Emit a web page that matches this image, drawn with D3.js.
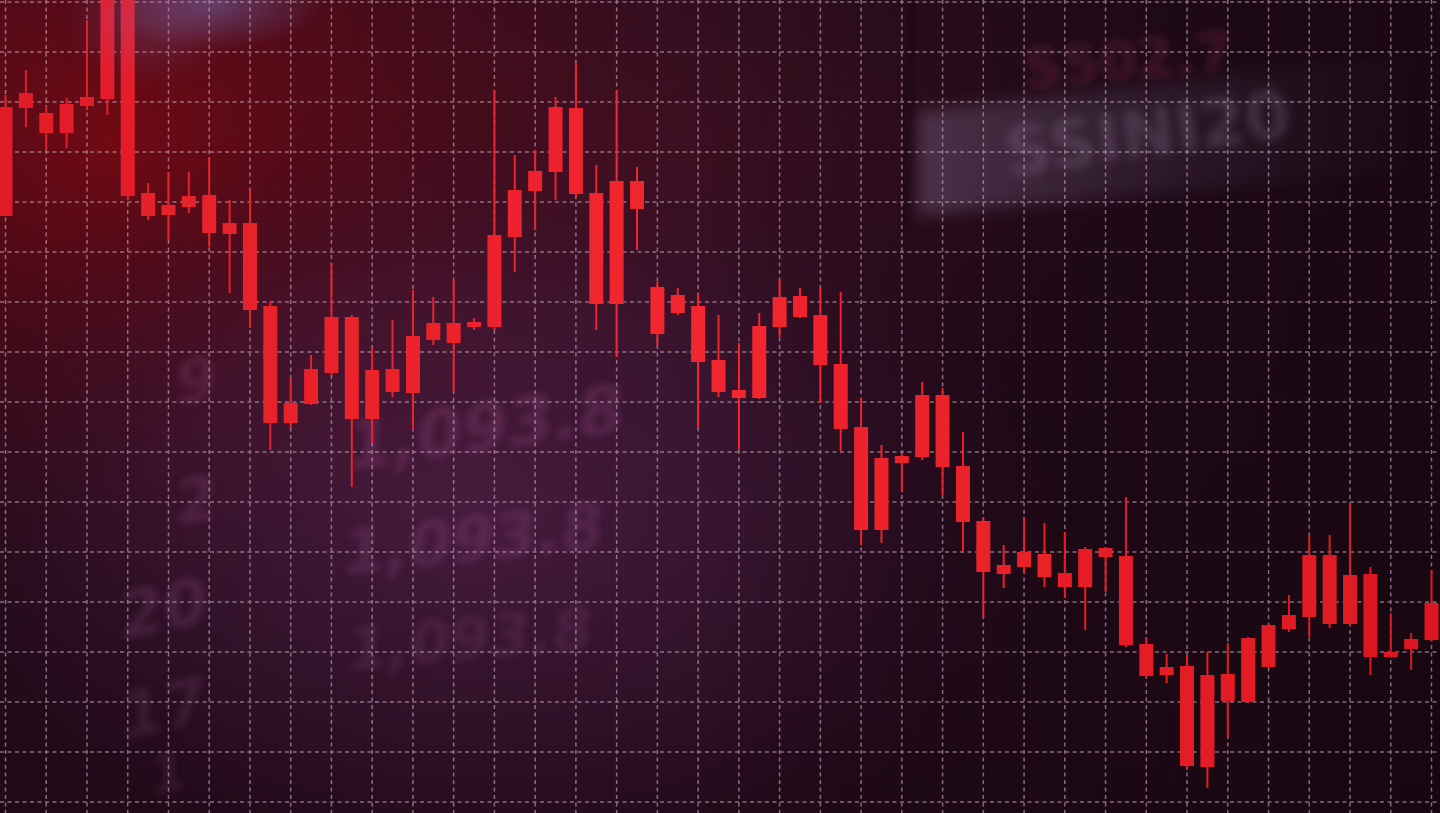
<!DOCTYPE html>
<html>
<head>
<meta charset="utf-8">
<script src="https://cdn.jsdelivr.net/npm/d3@7"></script>
<style>
html,body{margin:0;padding:0;background:#1a0812;overflow:hidden;}
svg{display:block;}
</style>
</head>
<body>
<svg id="chart" width="1440" height="813"></svg>
<script>
// ---- data (bearish candles: open = body top, close = body bottom) ----
const candleIndex = d3.range(71);
const openVals  = [179.0,181.8,177.8,179.6,181.0,202.4,202.4,161.8,159.4,161.2,161.4,155.8,155.8,139.2,119.8,126.6,137.0,137.0,126.4,126.6,133.2,135.8,135.8,136.0,153.4,162.4,166.2,179.0,178.8,161.8,164.2,164.2,143.0,141.4,139.2,128.4,122.4,135.2,141.0,141.2,137.4,127.6,115.0,108.8,109.2,121.4,121.4,107.2,96.2,87.4,90.0,89.6,85.8,90.6,90.8,89.2,71.6,67.0,67.2,65.4,65.6,72.8,75.4,77.4,89.4,89.4,85.4,85.6,70.0,72.6,79.8];
const closeVals = [157.2,178.8,173.8,173.8,179.2,180.6,161.2,157.2,157.4,159.0,153.8,153.6,138.4,115.8,115.8,119.6,125.8,116.6,116.6,122.0,121.8,132.4,131.8,135.0,135.0,153.0,162.2,166.0,161.6,139.6,139.6,158.6,133.6,137.8,128.0,122.0,120.8,120.8,135.0,137.0,127.4,114.6,94.4,94.4,107.8,109.0,107.0,96.0,86.0,85.6,87.0,85.0,83.0,83.0,89.0,71.4,65.2,65.4,47.2,47.0,60.2,60.0,67.0,74.6,77.0,75.6,75.6,69.0,69.0,70.6,72.4];
const highVals  = [181.4,186.4,179.0,180.8,196.4,202.4,202.4,163.8,166.0,166.0,169.0,160.4,162.4,140.0,125.0,129.4,147.8,137.4,130.8,136.4,142.4,141.0,144.4,136.8,182.4,169.4,170.4,181.0,187.8,167.4,182.4,167.0,144.0,142.8,141.8,137.4,131.8,137.8,144.4,142.8,142.8,142.0,120.8,111.4,109.8,124.0,122.8,114.0,97.0,91.4,97.0,95.8,94.0,91.0,91.0,101.0,73.0,69.6,69.4,70.0,71.8,73.0,75.8,81.4,93.4,93.4,99.6,87.0,77.8,73.8,86.4];
const lowVals   = [157.2,175.0,170.4,170.8,178.4,177.4,160.4,156.4,152.4,157.8,151.0,141.8,134.8,110.4,114.8,119.4,125.4,103.0,111.8,121.0,114.4,131.4,122.0,134.4,134.4,146.0,154.4,160.4,161.0,134.4,129.0,150.4,131.4,137.4,114.8,121.0,110.4,120.6,133.0,136.8,119.8,110.0,91.4,91.8,102.0,108.4,101.4,90.0,76.8,82.8,85.8,83.0,80.8,74.4,82.0,71.0,64.8,63.8,46.4,42.8,53.0,59.8,66.8,74.0,73.0,74.8,75.4,65.4,68.8,66.4,72.2];
const priceTicks = d3.range(40, 201, 10);
const timeTicks = d3.range(0, 71, 2);
const ghostNumbers = ["1,093.8","1,093.8","1,093.8","9","2","20","17","1"];
const panelTexts = ["S502.7","SSINI20"];

const W = 1440, H = 813;
const svg = d3.select("#chart");
const x = d3.scaleLinear().domain([0, 70]).range([5.5, 1431.5]);
const y = d3.scaleLinear().domain([40, 200]).range([802, 2]);

const defs = svg.append("defs");
function radial(id, stops){
  const g = defs.append("radialGradient").attr("id", id);
  stops.forEach(s => g.append("stop").attr("offset", s[0]).attr("stop-color", s[1]).attr("stop-opacity", s[2]));
}
radial("gRed", [[0,"#7a0a14",0.95],[0.45,"#620a16",0.6],[1,"#4a0a18",0]]);
radial("gPurple", [[0,"#6a2a5e",0.7],[0.55,"#52204a",0.45],[1,"#3a1030",0]]);
radial("gBlue", [[0,"#6e5a96",0.6],[1,"#6e5a96",0]]);
radial("gMaroon", [[0,"#4e1226",0.7],[1,"#4a1024",0]]);
const lin = defs.append("linearGradient").attr("id","gDark").attr("x1","0").attr("x2","1").attr("y1","0").attr("y2","0");
lin.append("stop").attr("offset",0).attr("stop-color","#14060e").attr("stop-opacity",0);
lin.append("stop").attr("offset",1).attr("stop-color","#14060e").attr("stop-opacity",0.65);
const lin2 = defs.append("linearGradient").attr("id","gPanel").attr("x1","0").attr("x2","1").attr("y1","0").attr("y2","0");
lin2.append("stop").attr("offset",0).attr("stop-color","#9a8cb4").attr("stop-opacity",0.3);
lin2.append("stop").attr("offset",0.5).attr("stop-color","#7a6a96").attr("stop-opacity",0.14);
lin2.append("stop").attr("offset",1).attr("stop-color","#5a4a70").attr("stop-opacity",0.0);
const linB = defs.append("linearGradient").attr("id","gBottom").attr("x1","0").attr("x2","0").attr("y1","0").attr("y2","1");
linB.append("stop").attr("offset",0).attr("stop-color","#12050c").attr("stop-opacity",0);
linB.append("stop").attr("offset",1).attr("stop-color","#12050c").attr("stop-opacity",0.3);

function blur(id, s){ defs.append("filter").attr("id", id).attr("x","-50%").attr("y","-50%").attr("width","200%").attr("height","200%")
  .append("feGaussianBlur").attr("stdDeviation", s); }
blur("b3", 3.5); blur("b5", 5); blur("b6", 8); blur("b20", 20); blur("b04", 0.45);

// ---- background ----
const bg = svg.append("g");
bg.append("rect").attr("width", W).attr("height", H).attr("fill", "#260c1c");
bg.append("ellipse").attr("cx", 620).attr("cy", 160).attr("rx", 520).attr("ry", 320).attr("fill", "url(#gMaroon)");
bg.append("ellipse").attr("cx", 110).attr("cy", 140).attr("rx", 600).attr("ry", 480).attr("fill", "url(#gRed)");
bg.append("ellipse").attr("cx", 480).attr("cy", 520).attr("rx", 600).attr("ry", 400).attr("fill", "url(#gPurple)");
bg.append("ellipse").attr("cx", 215).attr("cy", 5).attr("rx", 110).attr("ry", 45).attr("fill", "url(#gBlue)");
bg.append("rect").attr("x", 700).attr("width", W-700).attr("height", H).attr("fill", "url(#gDark)");
bg.append("rect").attr("width", W).attr("height", H).attr("fill", "url(#gBottom)");
// light panel top-right
bg.append("polygon").attr("points", "918,112 1440,50 1440,168 918,215")
  .attr("fill", "url(#gPanel)").attr("filter", "url(#b6)");
bg.append("line").attr("x1", 912).attr("y1", 0).attr("x2", 905).attr("y2", 230)
  .attr("stroke", "#0e050a").attr("stroke-width", 5).attr("opacity", 0.45).attr("filter", "url(#b3)");

// ghost numerals
const ghost = bg.append("g").attr("fill", "#b060a0").attr("font-family", "DejaVu Sans, sans-serif")
  .attr("font-weight", "bold").attr("filter", "url(#b3)");
const ghostPos = [[345,470,66,-8,0.22],[340,575,62,-6,0.2],[345,670,58,-5,0.16],
                  [175,405,60,-10,0.2],[175,525,60,-10,0.2],[120,640,64,-12,0.2],[120,740,64,-12,0.16],[150,795,52,-12,0.14]];
ghostNumbers.forEach((t,i) => {
  const p = ghostPos[i];
  ghost.append("text").attr("transform", `translate(${p[0]},${p[1]}) rotate(${p[3]}) skewX(-12)`)
    .attr("font-size", p[2]).attr("opacity", p[4]).text(t);
});
const ghost2 = bg.append("g").attr("font-family", "DejaVu Sans, sans-serif").attr("font-weight","bold").attr("filter","url(#b5)");
ghost2.append("text").attr("transform","translate(1025,88) rotate(-5)").attr("font-size",54)
  .attr("fill","#6e2440").attr("opacity",0.45).text(panelTexts[0]);
ghost2.append("text").attr("transform","translate(1008,176) rotate(-8)").attr("font-size",66)
  .attr("fill","#b8a6c6").attr("opacity",0.2).text(panelTexts[1]);

// ---- grid ----
const grid = svg.append("g").attr("stroke", "#d2b4c8").attr("stroke-width", 1.5)
  .attr("stroke-dasharray", "4,3.5").attr("opacity", 0.58);
grid.selectAll(".h").data(priceTicks).join("line")
  .attr("x1", 0).attr("x2", W).attr("y1", d => y(d)).attr("y2", d => y(d));
grid.selectAll(".v").data(timeTicks).join("line")
  .attr("y1", 0).attr("y2", H).attr("x1", d => x(d)).attr("x2", d => x(d));

// ---- candles ----
const data = candleIndex.map(i => ({i, o: openVals[i], c: closeVals[i], h: highVals[i], l: lowVals[i]}));
const color = d3.scaleLinear().domain([0, 35, 70]).range(["#e21e28", "#f2262f", "#dc1820"]);
const cg = svg.append("g").attr("filter", "url(#b04)");
const bw = 14;
cg.selectAll(".wick").data(data).join("line")
  .attr("x1", d => x(d.i)).attr("x2", d => x(d.i))
  .attr("y1", d => y(d.h)).attr("y2", d => y(d.l))
  .attr("stroke", d => color(d.i)).attr("stroke-width", 2);
cg.selectAll(".body").data(data).join("rect")
  .attr("x", d => x(d.i) - bw/2).attr("width", bw)
  .attr("y", d => y(Math.max(d.o, d.c)))
  .attr("height", d => Math.max(3, Math.abs(y(d.o) - y(d.c))))
  .attr("fill", d => color(d.i));
// light tint on the top-left tall candles
svg.append("ellipse").attr("cx", 150).attr("cy", 20).attr("rx", 60).attr("ry", 40)
  .attr("fill", "#8a6ab0").attr("opacity", 0.22).attr("filter", "url(#b20)");
</script>
</body>
</html>
